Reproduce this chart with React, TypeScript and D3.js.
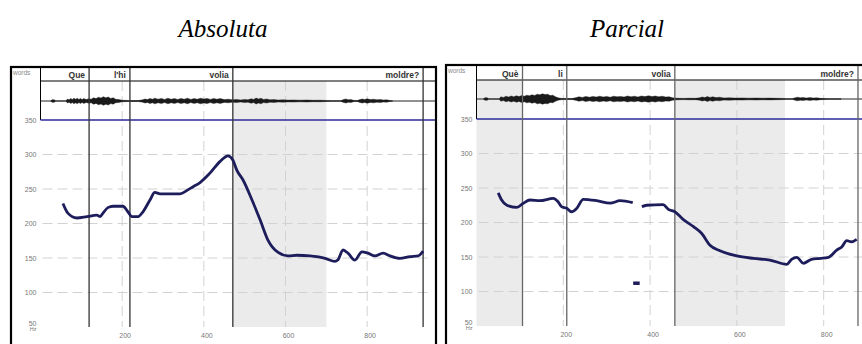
import { scaleLinear, line, area, curveMonotoneX } from "d3";

// pitch contours, [ms, Hz]
const pitchAbsoluta: [number, number][] = [
  [55, 229], [67, 215], [89, 208], [114, 210], [138, 212], [146, 210], [153, 215],
  [165, 223], [178, 225], [202, 225], [214, 217], [224, 210], [239, 210], [251, 217],
  [268, 234], [280, 245], [293, 243], [342, 243], [359, 248], [373, 253], [390, 259],
  [415, 273], [440, 290], [459, 298], [471, 292], [481, 277], [496, 263], [518, 234],
  [538, 205], [557, 176], [582, 158], [606, 153], [628, 154], [660, 153], [697, 149.5],
  [721, 145], [728, 147], [741, 161.6], [753, 157], [770, 147], [787, 159], [802, 157],
  [819, 153], [839, 157], [856, 153], [880, 149.5], [905, 152], [925, 153], [937, 160],
];

const pitchParcialA: [number, number][] = [
  [50, 243], [58, 232.6], [70, 225], [93, 222], [108, 228], [123, 232.6], [146, 231.6],
  [177, 235], [188, 230], [196, 223], [208, 220.6], [219, 215.6], [231, 220.6],
  [246, 233.6], [277, 231.6], [308, 228], [331, 231.6], [360, 228.7],
];
const pitchParcialB: [number, number][] = [
  [381, 223], [392, 225], [430, 226], [442, 219], [457, 215.6], [476, 204.6], [500, 194],
  [519, 184], [538, 167], [561, 159], [600, 151.5], [638, 148], [676, 145.6], [715, 139.4],
  [726, 146.7], [738, 149.6], [753, 140.9], [772, 146.7], [792, 148], [811, 149.6],
  [830, 160], [842, 165], [853, 173.6], [864, 172], [876, 175.6],
];
const pitchParcialDash: [number, number][] = [[361, 112], [376, 112]];

// word tier: [label, end ms]
const wordsAbsoluta: [string, number][] = [["Que", 119], ["l'hi", 219], ["volia", 471], ["moldre?", 937]];
const wordsParcial: [string, number][] = [["Què", 106], ["li", 208], ["volia", 457], ["moldre?", 879]];

// shaded intervals, ms
const shadeAbsoluta: [number, number][] = [[471, 700]];
const shadeParcial: [number, number][] = [[0, 106], [457, 711]];

// waveform envelope, [ms, amplitude]
const waveAbsoluta: [number, number][] = [
  [25, 0], [28, 1.3], [34, 1.3], [37, 0], [62, 0], [66, 2], [70, 1.2], [74, 2.6], [78, 1.6],
  [82, 2.8], [86, 1.8], [90, 2.8], [94, 1.6], [98, 2.6], [102, 1.4], [106, 2.5], [112, 1.4],
  [118, 2.2], [124, 1.8], [130, 3.2], [136, 2.4], [142, 3.8], [148, 3], [154, 4.3], [160, 3.2],
  [166, 4], [172, 2.6], [178, 3.2], [184, 1.8], [192, 1.4], [200, 0.8], [215, 0.5], [240, 0.5],
  [250, 1.2], [256, 2], [262, 1.4], [268, 2.6], [274, 1.8], [280, 2.8], [288, 1.8], [296, 2.6],
  [304, 1.6], [312, 2.8], [320, 1.8], [328, 2.4], [336, 1.6], [344, 2.6], [352, 1.8], [360, 2.8],
  [368, 1.6], [376, 2.4], [384, 1.8], [392, 2.8], [400, 2], [408, 2.6], [416, 1.6], [424, 2.6],
  [432, 1.8], [440, 2.4], [450, 1.4], [460, 1.8], [470, 1.2], [480, 1.6], [490, 1.1], [500, 1.6],
  [508, 1.2], [516, 2.2], [522, 1.6], [528, 3], [534, 2], [540, 2.8], [546, 1.6], [554, 2],
  [562, 1.2], [572, 1.4], [582, 1], [594, 1.2], [606, 0.9], [620, 1.1], [636, 0.8], [652, 1],
  [668, 0.7], [684, 0.8], [700, 0.5], [712, 0.3], [735, 0.3], [742, 1.4], [748, 2], [754, 1.2],
  [760, 1.6], [768, 0.6], [776, 0.5], [782, 1.4], [788, 2], [794, 1.4], [800, 2.2], [808, 1.4],
  [816, 1.8], [824, 1.2], [832, 1.6], [840, 1], [848, 1.2], [856, 0.5], [862, 0.3],
];
const waveParcial: [number, number][] = [
  [16, 0], [19, 1.3], [25, 1.3], [28, 0], [52, 0], [56, 2.2], [62, 1.6], [68, 2.8], [74, 2],
  [80, 3], [86, 2.2], [92, 3.2], [98, 2.4], [104, 3.4], [110, 2.8], [116, 3.8], [122, 3.2],
  [128, 4.2], [134, 3.6], [140, 4.8], [146, 4.2], [152, 5.2], [158, 4.4], [164, 4.8], [170, 3.4],
  [176, 3.8], [182, 2.2], [188, 1.2], [196, 0.6], [220, 0.5], [230, 1.4], [236, 2.2], [244, 1.6],
  [252, 2.6], [260, 1.8], [268, 2.6], [276, 2], [284, 2.8], [292, 2], [300, 2.6], [308, 1.8],
  [316, 2.8], [324, 2.2], [332, 2.6], [340, 2], [348, 3], [356, 2.2], [364, 2.8], [372, 2],
  [380, 3], [388, 2.4], [396, 3.2], [404, 2.4], [412, 3], [420, 2.2], [428, 2.8], [436, 2],
  [444, 2.2], [452, 1.2], [462, 0.8], [476, 0.6], [490, 0.8], [504, 0.7], [514, 1.2], [520, 2],
  [526, 1.4], [532, 2.4], [538, 1.6], [544, 2.2], [552, 1.4], [560, 1.8], [570, 1.1], [582, 1.2],
  [596, 0.9], [612, 1.1], [628, 0.8], [644, 1], [660, 0.8], [676, 0.9], [692, 0.7], [706, 0.6],
  [714, 0.3], [728, 0.3], [734, 1.2], [740, 1.8], [746, 1.2], [752, 1.6], [760, 1], [768, 1.4],
  [776, 1], [784, 1.2], [792, 0.7], [800, 0.5], [810, 0.3], [840, 0.3],
];

const yTicks = [350, 300, 250, 200, 150, 100];
const xTicks = [200, 400, 600, 800];
const yGrid = [300, 250, 200, 150, 100];

type PanelProps = {
  box: { x: number; y: number; w: number; h: number };
  plotX: [number, number];
  tMax: number;
  yRange: [number, number];
  headerBottom: number;
  waveMid: number;
  pitch: [number, number][][];
  words: [string, number][];
  shade: [number, number][];
  wave: [number, number][];
  boundaryColor: string;
};

const font = "Arial, 'Liberation Sans', sans-serif";

function Panel(p: PanelProps) {
  const x = scaleLinear().domain([0, p.tMax]).range(p.plotX);
  const y = scaleLinear().domain([50, 350]).range(p.yRange);
  const [x0, x1] = p.plotX;
  const top = p.box.y;
  const bottom = y(50);
  const pitchLine = line<[number, number]>()
    .x((d) => x(d[0]))
    .y((d) => y(d[1]))
    .curve(curveMonotoneX);
  const waveArea = area<[number, number]>()
    .x((d) => x(d[0]))
    .y0((d) => p.waveMid - d[1])
    .y1((d) => p.waveMid + d[1]);

  return (
    <g>
      {/* shading */}
      {p.shade.map(([a, b], i) => (
        <rect key={i} x={x(a)} y={p.headerBottom} width={x(b) - x(a)} height={bottom - p.headerBottom} fill="#ebebeb" />
      ))}
      {/* grid */}
      {yGrid.map((v) => (
        <line key={v} x1={x0 + 2} x2={x1} y1={y(v)} y2={y(v)} stroke="#d2d2d2" strokeWidth={1} strokeDasharray="10,5" />
      ))}
      {xTicks.map((t) => (
        <line key={t} x1={x(t)} x2={x(t)} y1={p.headerBottom} y2={bottom} stroke="#d2d2d2" strokeWidth={1} strokeDasharray="10,5" />
      ))}
      {/* header and wave tier frame */}
      <line x1={x0} x2={p.box.x + p.box.w} y1={p.headerBottom} y2={p.headerBottom} stroke="#000" strokeWidth={1} />
      <line x1={x0} x2={x0} y1={top} y2={y(350)} stroke="#000" strokeWidth={1} />
      <line x1={x0} x2={p.box.x + p.box.w} y1={p.waveMid} y2={p.waveMid} stroke="#222" strokeWidth={1} />
      <path d={waveArea(p.wave) ?? ""} fill="#1a1a1a" stroke="#1a1a1a" strokeWidth={0.4} />
      <line x1={x0} x2={p.box.x + p.box.w} y1={y(350)} y2={y(350)} stroke="#2b2b9a" strokeWidth={1.6} />
      {/* word boundaries and labels */}
      {p.words.map(([w, end]) => (
        <g key={w}>
          <line x1={x(end)} x2={x(end)} y1={top} y2={bottom} stroke={p.boundaryColor} strokeWidth={1.3} />
          <text x={x(end) - 4} y={p.headerBottom - 3} textAnchor="end" fontFamily={font} fontWeight="bold" fontSize={8.5} fill="#333">
            {w}
          </text>
        </g>
      ))}
      {/* pitch */}
      {p.pitch.map((seg, i) => (
        <path key={i} d={pitchLine(seg) ?? ""} fill="none" stroke="#1d1d5c" strokeWidth={seg.length === 2 ? 3.5 : 2.8} strokeLinejoin="round" />
      ))}
      {/* axis labels */}
      <text x={p.box.x + 2} y={top + 8} fontFamily={font} fontSize={6.5} fill="#888">words</text>
      {yTicks.map((v) => (
        <text key={v} x={x0 - 4} y={y(v) + 2.5} textAnchor="end" fontFamily={font} fontSize={7} fill="#777">{v}</text>
      ))}
      <text x={x0 - 4} y={bottom - 1} textAnchor="end" fontFamily={font} fontSize={7} fill="#777">50</text>
      <text x={x0 - 4} y={bottom + 4} textAnchor="end" fontFamily={font} fontSize={5.5} fill="#777">Hz</text>
      {xTicks.map((t) => (
        <text key={t} x={x(t) + 3} y={bottom + 11} textAnchor="middle" fontFamily={font} fontSize={7} fill="#777">{t}</text>
      ))}
      {/* panel border */}
      <rect x={p.box.x} y={p.box.y} width={p.box.w} height={p.box.h} fill="none" stroke="#000" strokeWidth={2.2} />
    </g>
  );
}

export default function App() {
  return (
    <svg width={862} height={344} style={{ position: "absolute", left: 0, top: 0, background: "#fff" }}>
      <text x={223} y={37} textAnchor="middle" fontFamily="'Liberation Serif', serif" fontStyle="italic" fontSize={25}>Absoluta</text>
      <text x={627} y={37} textAnchor="middle" fontFamily="'Liberation Serif', serif" fontStyle="italic" fontSize={25}>Parcial</text>
      <Panel
        box={{ x: 11, y: 67, w: 425, h: 300 }}
        plotX={[40.5, 432.5]}
        tMax={960}
        yRange={[327, 120]}
        headerBottom={81}
        waveMid={101}
        pitch={[pitchAbsoluta]}
        words={wordsAbsoluta}
        shade={shadeAbsoluta}
        wave={waveAbsoluta}
        boundaryColor="#333"
      />
      <Panel
        box={{ x: 446, y: 65, w: 430, h: 300 }}
        plotX={[476.5, 867.1]}
        tMax={900}
        yRange={[326, 119]}
        headerBottom={80}
        waveMid={99}
        pitch={[pitchParcialA, pitchParcialB, pitchParcialDash]}
        words={wordsParcial}
        shade={shadeParcial}
        wave={waveParcial}
        boundaryColor="#666"
      />
    </svg>
  );
}
